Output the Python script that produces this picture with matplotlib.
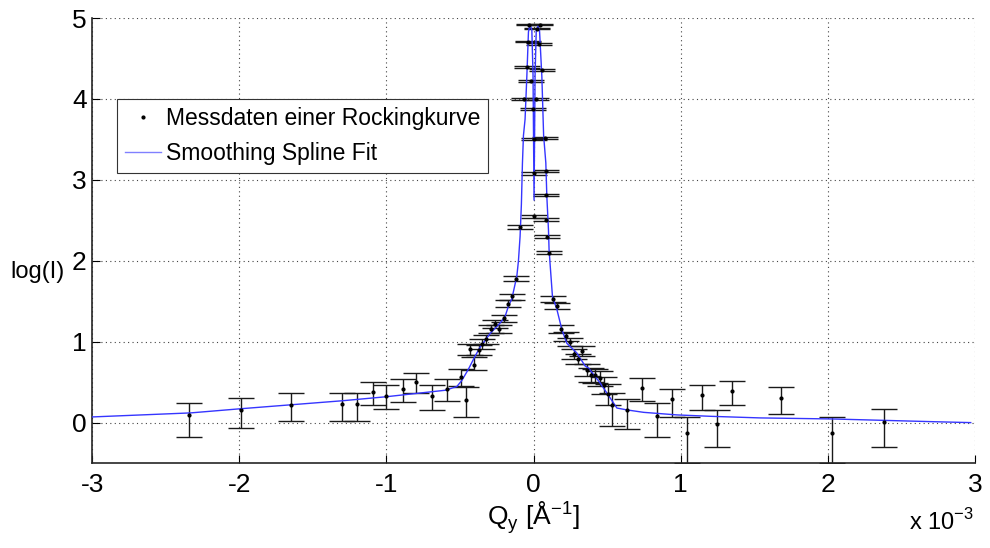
import matplotlib
matplotlib.use("Agg")
import matplotlib.pyplot as plt
import numpy as np

plt.rcParams["font.family"] = ["Liberation Sans", "DejaVu Sans"]
plt.rcParams["mathtext.fontset"] = "custom"
plt.rcParams["mathtext.rm"] = "Liberation Sans"
plt.rcParams["axes.unicode_minus"] = False

# measured rocking curve, Qy in units of 1e-3 1/A
qy = [-2.34, -1.99, -1.65, -1.30, -1.20, -1.09, -1.00, -0.89, -0.80, -0.69,
      -0.59, -0.49, -0.46, -0.43, -0.405, -0.373, -0.348, -0.323, -0.291, -0.26,
      -0.233, -0.203, -0.176, -0.146, -0.117, -0.09,
      -0.063, -0.046, -0.04, -0.029, -0.019, -0.005, 0.003, 0.003, 0.005, 0.015,
      0.022, 0.04, 0.044, 0.06, 0.078, 0.083, 0.087, 0.085, 0.092, 0.103,
      0.131, 0.16, 0.189, 0.219, 0.247, 0.276, 0.305, 0.332, 0.362, 0.39,
      0.42, 0.448, 0.477, 0.505, 0.534, 0.637, 0.736, 0.84, 0.94, 1.042,
      1.146, 1.244, 1.346, 1.68, 2.03, 2.38]
log_i = [0.09, 0.16, 0.22, 0.235, 0.235, 0.38, 0.335, 0.42, 0.50, 0.335,
         0.42, 0.56, 0.285, 0.91, 0.716, 0.90, 0.975, 1.03, 1.16, 1.22,
         1.16, 1.29, 1.47, 1.56, 1.78, 2.42,
         4.00, 4.40, 4.71, 4.92, 4.22, 3.88, 3.08, 2.55, 3.51, 4.00,
         4.87, 4.68, 4.92, 4.36, 3.52, 3.11, 2.81, 2.51, 2.30, 2.10,
         1.53, 1.44, 1.16, 1.065, 1.00, 0.85, 0.79, 0.89, 0.654, 0.59,
         0.585, 0.55, 0.46, 0.357, 0.214, 0.157, 0.432, 0.086, 0.288, -0.132,
         0.337, -0.016, 0.39, 0.30, -0.128, 0.012]
err_hi = [0.15, 0.145, 0.15, 0.135, 0.135, 0.12, 0.13, 0.12, 0.11, 0.125,
          0.12, 0.10, 0.155, 0.065, 0.09, 0.06, 0.055, 0.05, 0.05, 0.045,
          0.045, 0.04, 0.04, 0.035, 0.03, 0.02,
          0.012, 0.012, 0.01, 0.01, 0.012, 0.012, 0.015, 0.02, 0.013, 0.012,
          0.01, 0.01, 0.01, 0.012, 0.013, 0.015, 0.015, 0.02, 0.02, 0.02,
          0.035, 0.035, 0.045, 0.05, 0.05, 0.06, 0.06, 0.06, 0.07, 0.08,
          0.08, 0.09, 0.10, 0.12, 0.155, 0.14, 0.12, 0.16, 0.13, 0.20,
          0.13, 0.175, 0.12, 0.135, 0.20, 0.16]
err_lo = [0.27, 0.225, 0.195, 0.21, 0.21, 0.16, 0.17, 0.16, 0.13, 0.175,
          0.15, 0.11, 0.22, 0.08, 0.07, 0.065, 0.06, 0.055, 0.055, 0.05,
          0.05, 0.045, 0.045, 0.04, 0.035, 0.025,
          0.012, 0.012, 0.01, 0.01, 0.012, 0.012, 0.015, 0.02, 0.013, 0.012,
          0.01, 0.01, 0.01, 0.012, 0.013, 0.015, 0.015, 0.02, 0.02, 0.02,
          0.04, 0.04, 0.05, 0.055, 0.055, 0.065, 0.065, 0.065, 0.08, 0.09,
          0.09, 0.10, 0.11, 0.14, 0.26, 0.23, 0.16, 0.26, 0.22, 0.368,
          0.18, 0.29, 0.17, 0.19, 0.372, 0.31]

# smoothing spline, evaluated curve
fit_q = [-3.0, -2.33, -2.0, -1.65, -1.3, -1.0, -0.8, -0.6, -0.522, -0.488,
         -0.443, -0.398, -0.364, -0.296, -0.228, -0.194, -0.171, -0.148, -0.137,
         -0.114, -0.103, -0.092, -0.083, -0.076, -0.069, -0.058, -0.046, -0.035,
         -0.024, -0.012, -0.004, 0.003, 0.010, 0.018, 0.030, 0.040, 0.056, 0.068,
         0.083, 0.090, 0.101, 0.105, 0.114, 0.128, 0.158, 0.192, 0.226, 0.294,
         0.35, 0.373, 0.452, 0.52, 0.566, 0.634, 0.747, 0.974, 1.2, 1.54,
         2.03, 2.7, 2.97]
fit_log_i = [0.07, 0.12, 0.17, 0.22, 0.27, 0.32, 0.36, 0.40, 0.445, 0.52,
             0.66, 0.82, 0.93, 1.10, 1.23, 1.31, 1.44, 1.53, 1.62,
             1.81, 2.0, 2.3, 2.7, 3.2, 3.55, 3.75, 4.28, 4.83,
             4.92, 4.85, 4.3, 2.75, 4.3, 4.85, 4.9, 4.85, 4.28, 3.55,
             3.21, 2.79, 2.38, 2.14, 1.91, 1.56, 1.40, 1.15, 0.98, 0.86,
             0.70, 0.675, 0.49, 0.305, 0.18, 0.157, 0.127, 0.095, 0.078, 0.058,
             0.045, 0.012, 0.0]

fig = plt.figure(figsize=(9.9, 5.48), dpi=100)
ax = fig.add_axes([0.093, 0.155, 0.892, 0.812])

ax.errorbar(qy, log_i, yerr=[err_lo, err_hi], fmt="none", ecolor="#1a1a1a",
            elinewidth=1.0, capsize=9.7, capthick=1.0, zorder=2)
ax.plot(fit_q, fit_log_i, color="#3535ff", lw=1.0, zorder=3,
        label="Smoothing Spline Fit")
ax.plot(qy, log_i, ".", color="black", ms=4, zorder=4,
        label="Messdaten einer Rockingkurve")

ax.set_xlim(-3, 3)
ax.set_ylim(-0.5, 5)
ax.set_xticks(np.arange(-3, 4, 1))
ax.set_yticks(np.arange(0, 6, 1))
ax.grid(True, linestyle=(0, (1, 3)), color="#444444", lw=0.8)
for s in ["top", "right"]:
    ax.spines[s].set_visible(False)
for s in ["left", "bottom"]:
    ax.spines[s].set_color("#262626")
    ax.spines[s].set_linewidth(1.2)
ax.tick_params(direction="in", length=6, labelsize=19)
ax.tick_params(axis="x", pad=7)
ax.tick_params(axis="y", pad=4)

ax.set_ylabel("log(I)", fontsize=17, rotation=0, va="center", ha="center")
ax.yaxis.set_label_coords(-0.062, 0.43)
ax.set_xlabel(r"Q$_\mathregular{y}$ [Å$^\mathregular{-1}$]", fontsize=19, labelpad=2)
fig.text(0.918, 0.033, r"x 10$^\mathregular{-3}$", fontsize=17)

handles, labels = ax.get_legend_handles_labels()
leg = ax.legend(handles[::-1], labels[::-1], loc="upper left",
                bbox_to_anchor=(0.028, 0.818), borderaxespad=0, fontsize=16.5,
                handlelength=1.6, handletextpad=0.2, labelspacing=0.5,
                borderpad=0.35, fancybox=False, framealpha=1,
                edgecolor="#333333")
leg.get_frame().set_linewidth(0.8)
leg.legend_handles[1].set_color("#8080ff")

fig.savefig("out.png", dpi=100)
